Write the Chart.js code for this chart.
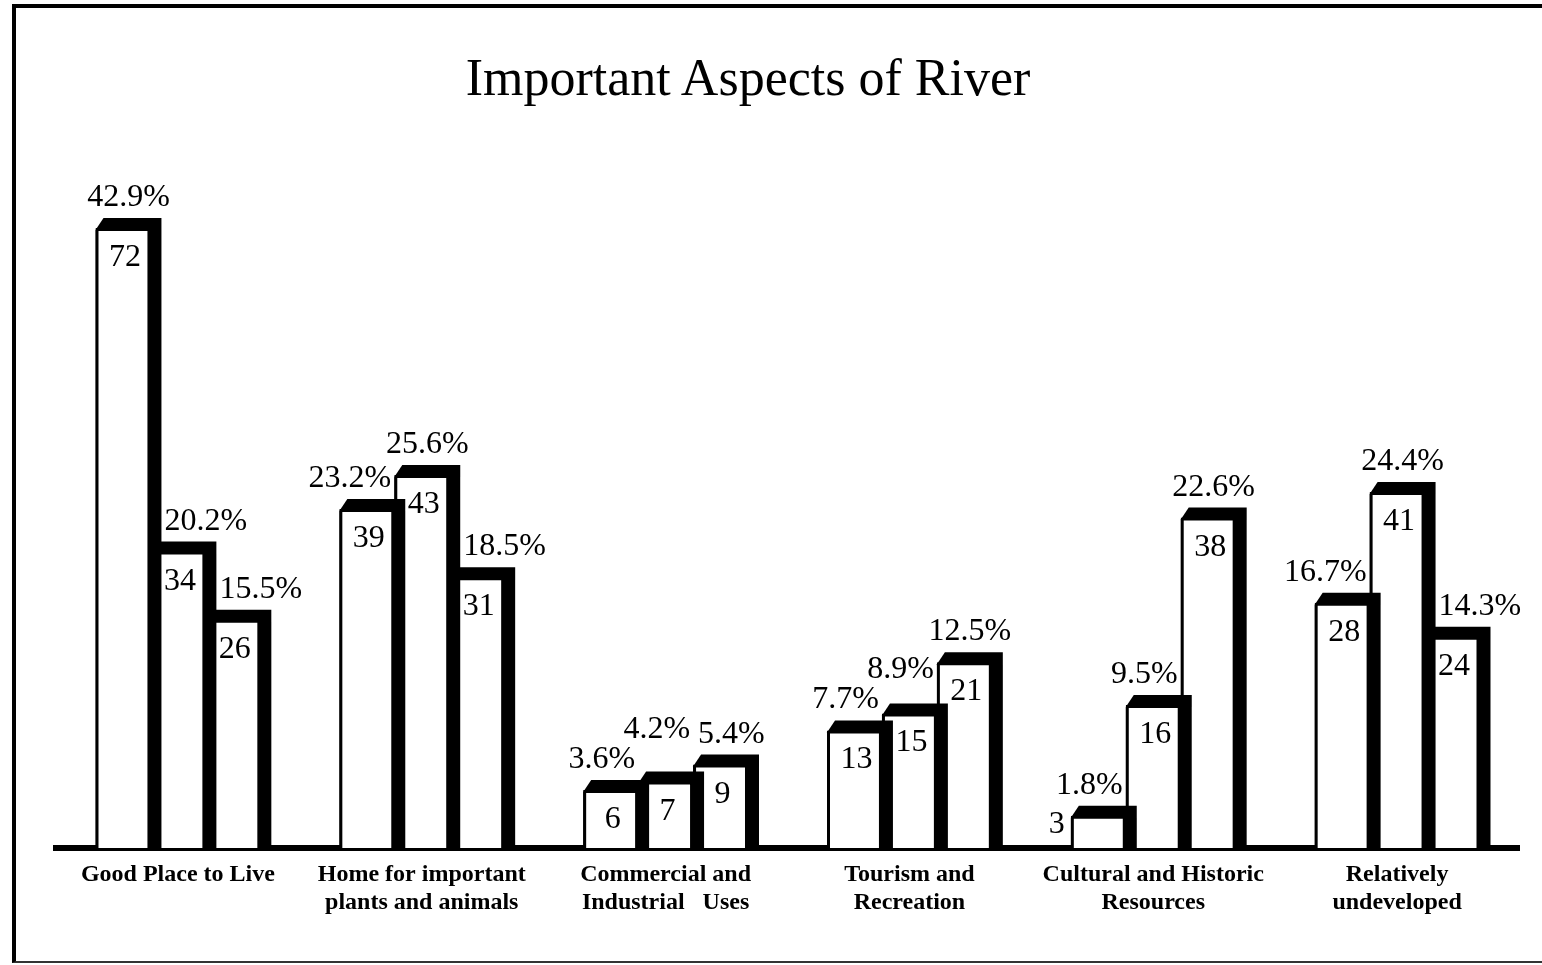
<!DOCTYPE html>
<html>
<head>
<meta charset="utf-8">
<title>Important Aspects of River</title>
<script src="https://cdn.jsdelivr.net/npm/chart.js@4/dist/chart.umd.min.js"></script>
<style>
  html, body { margin: 0; padding: 0; background: #fff; }
  #wrap { position: relative; width: 1542px; height: 965px; overflow: hidden; }
  #frame {
    position: absolute; left: 12px; top: 4px; width: 1600px; height: 953px;
    border-top: 4px solid #000; border-left: 4px solid #000; border-bottom: 2px solid #333;
  }
  #title {
    position: absolute; left: 0; top: 52px; width: 1496px; text-align: center;
    font: 52px/52px "Liberation Serif", serif; color: #000;
  }
  #box { position: absolute; left: 0; top: 0; width: 1542px; height: 965px; }
</style>
</head>
<body>
<div id="wrap">
  <div id="frame"></div>
  <div id="title">Important Aspects of River</div>
  <div id="box"><canvas id="Important_Aspects"></canvas></div>
</div>
<script>
// Aspects named by respondents, three bars per aspect
const aspects = [
    ['Good Place to Live'],
    ['Home for important', 'plants and animals'],
    ['Commercial and', 'Industrial   Uses'],
    ['Tourism and', 'Recreation'],
    ['Cultural and Historic', 'Resources'],
    ['Relatively', 'undeveloped']
];

// Number of answers (printed inside the bars)
const firstCounts = [72, 39, 6, 13, 3, 28];
const secondCounts = [34, 43, 7, 15, 16, 41];
const thirdCounts = [26, 31, 9, 21, 38, 24];

// Share of all answers (printed above the bars)
const firstShares = [42.9, 23.2, 3.6, 7.7, 1.8, 16.7];
const secondShares = [20.2, 25.6, 4.2, 8.9, 9.5, 24.4];
const thirdShares = [15.5, 18.5, 5.4, 12.5, 22.6, 14.3];

const shares = [firstShares, secondShares, thirdShares];

const DEPTH = 11;   // black side of each bar
const LIFT = 10;    // black top of each bar
const FLOOR = -0.8; // bars start a little under the axis line

const barProps = bar => bar.getProps(['x', 'y', 'base', 'width'], true);

// Black block behind every bar so it looks raised
const barShadow = {
    id: 'barShadow',
    beforeDatasetDraw(chart, args) {
        const ctx = chart.ctx;
        ctx.save();
        ctx.fillStyle = '#000';
        args.meta.data.forEach(bar => {
            const { x, y, base, width } = barProps(bar);
            const left = x - width / 2;
            const right = x + width / 2;
            ctx.beginPath();
            ctx.moveTo(left, y + 2);
            ctx.lineTo(left + 8, y - LIFT);
            ctx.lineTo(right + DEPTH, y - LIFT);
            ctx.lineTo(right + DEPTH, base);
            ctx.lineTo(left, base);
            ctx.closePath();
            ctx.fill();
        });
        ctx.restore();
    }
};

// Counts inside the bars, percentages above them
const barLabels = {
    id: 'barLabels',
    afterDatasetsDraw(chart) {
        const ctx = chart.ctx;
        const metas = chart.data.datasets.map((_, i) => chart.getDatasetMeta(i));
        ctx.save();
        ctx.fillStyle = '#000';
        ctx.font = '32px "Liberation Serif", serif';
        ctx.textBaseline = 'alphabetic';

        chart.data.labels.forEach((_, j) => {
            let last = null; // previous percentage label in this group
            metas.forEach((meta, i) => {
                const { x, y, base, width } = barProps(meta.data[j]);
                const value = chart.data.datasets[i].data[j];
                const left = x - width / 2;

                if (base - y > 50) {
                    ctx.textAlign = 'center';
                    ctx.fillText(String(value), x + 2, y + 38);
                } else {
                    // too short, put the count beside the bar
                    ctx.textAlign = 'right';
                    ctx.fillText(String(value), left - 6, y + 17);
                }

                const text = shares[i][j].toFixed(1) + '%';
                const w = ctx.measureText(text).width;
                let labelY = y - LIFT - 12;
                let cx = x + DEPTH / 2;
                const prev = metas[i - 1] && barProps(metas[i - 1].data[j]);
                const next = metas[i + 1] && barProps(metas[i + 1].data[j]);
                if (next && next.y - LIFT < labelY + 8) {
                    cx = Math.min(cx, next.x - next.width / 2 - 3 - w / 2);
                }
                if (prev && prev.y - LIFT < labelY) {
                    cx = Math.max(cx, prev.x + prev.width / 2 + DEPTH + 3 + w / 2);
                }
                // keep clear of the neighbouring label: small clash -> slide right, big one -> step up
                if (last && labelY > last.y - 26 && labelY - 26 < last.y) {
                    const clash = last.right + 8 - (cx - w / 2);
                    if (clash > 0 && clash < 15) {
                        cx += clash;
                    } else if (clash > 0) {
                        labelY = last.y - 30;
                    }
                }
                ctx.textAlign = 'center';
                ctx.fillText(text, cx, labelY);
                last = { right: cx + w / 2, y: labelY };
            });
        });
        ctx.restore();
    }
};

const barStyle = {
    backgroundColor: '#fff',
    borderColor: '#000',
    borderWidth: 3,
    base: FLOOR,
    categoryPercentage: 0.676,
    barPercentage: 1
};

const importantAspects = document.getElementById('Important_Aspects');

new Chart(importantAspects, {
    type: 'bar',
    data: {
        labels: aspects,
        datasets: [
            { label: 'first', data: firstCounts, ...barStyle },
            { label: 'second', data: secondCounts, ...barStyle },
            { label: 'third', data: thirdCounts, ...barStyle }
        ]
    },
    options: {
        responsive: true,
        maintainAspectRatio: false,
        animation: false,
        layout: { padding: { left: 56, right: 23, top: 130, bottom: 0 } },
        plugins: {
            legend: { display: false },
            tooltip: { enabled: false }
        },
        scales: {
            x: {
                grid: { display: false, drawTicks: false },
                border: { display: true, width: 6, color: '#000' },
                ticks: {
                    color: '#000',
                    padding: 13,
                    maxRotation: 0,
                    autoSkip: false,
                    font: { family: '"Liberation Serif", serif', size: 24, weight: 'bold', lineHeight: 1.17 }
                },
                afterFit(scale) {
                    scale.height = 117;
                }
            },
            y: {
                display: false,
                min: FLOOR,
                max: 83.5
            }
        }
    },
    plugins: [barShadow, barLabels]
});
</script>
</body>
</html>
